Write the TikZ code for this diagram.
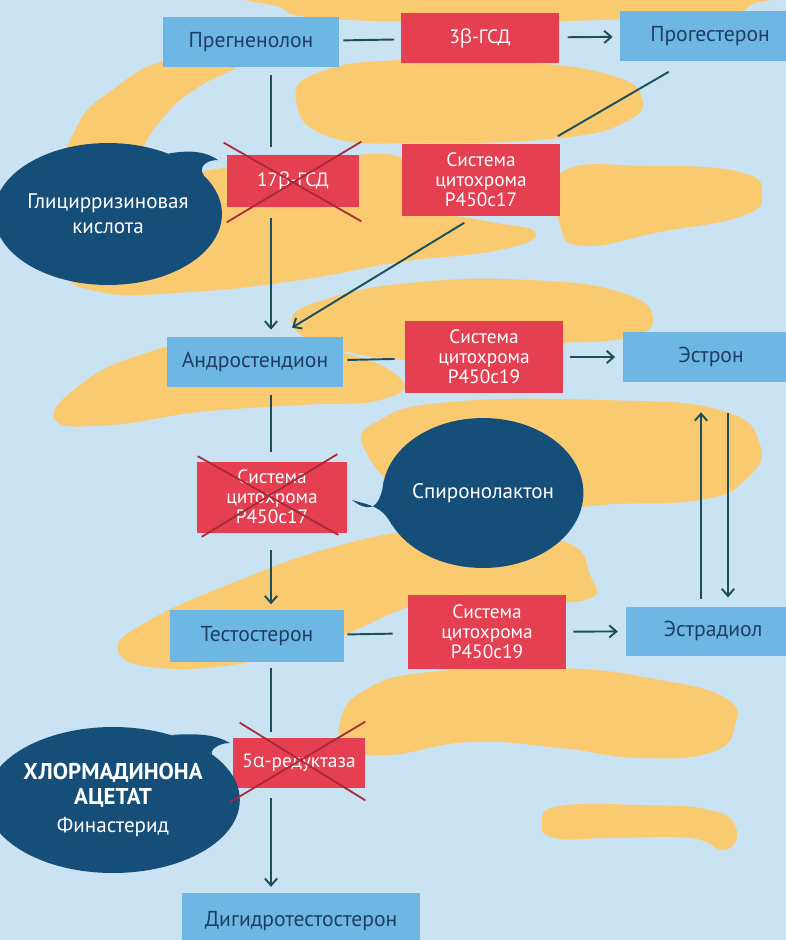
\documentclass[tikz,border=0pt]{standalone}
\usepackage{fontspec}
\setmainfont{PT Sans}
\newfontfamily\grk{Open Sans}
\usetikzlibrary{shapes.geometric,arrows.meta}
\definecolor{bgblue}{RGB}{202,227,243}
\definecolor{boxblue}{RGB}{110,183,228}
\definecolor{enzred}{RGB}{228,64,82}
\definecolor{inkblue}{RGB}{22,78,122}
\definecolor{blobyellow}{RGB}{250,202,112}
\definecolor{linkteal}{RGB}{28,78,92}
\definecolor{crossred}{RGB}{168,40,56}
\definecolor{boxtext}{RGB}{30,62,100}

\begin{document}
\begin{tikzpicture}[x=0.02cm,y=-0.02cm,
  substance/.style={fill=boxblue,text=boxtext,inner sep=0pt,font=\fontsize{12.3}{13}\selectfont},
  enzyme/.style={fill=enzred,text=white,inner sep=0pt,align=center,font=\fontsize{11}{11.4}\selectfont},
  blocker/.style={ellipse,fill=inkblue,text=white,inner sep=0pt,align=center,font=\fontsize{12}{14}\selectfont},
  link/.style={draw=linkteal,line width=1.1pt},
  arrow/.style={link,-{Straight Barb[length=4pt,width=7pt]}},
  cross/.style={draw=crossred,line width=1pt},
  blob/.style={fill=blobyellow}]
\useasboundingbox (0,0) rectangle (786,940);
\clip (0,0) rectangle (786,940);
\fill[bgblue] (0,0) rectangle (786,940);

% yellow blobs
\fill[blob] plot[smooth cycle, tension=0.8] coordinates {(275,-10) (282,8) (320,18) (450,22) (600,20) (720,14) (752,4) (760,-10)};
\fill[blob] plot[smooth cycle, tension=0.8] coordinates {(296,100) (320,72) (400,60) (520,62) (610,75) (642,98) (625,122) (560,138) (430,143) (330,137)};
\fill[blob] plot[smooth cycle, tension=0.8] coordinates {(60,200) (75,130) (115,88) (170,60) (236,64) (200,86) (168,112) (140,155) (120,220) (90,270)};
\fill[blob] plot[smooth cycle, tension=0.8] coordinates {(70,265) (120,200) (200,172) (300,163) (400,157) (420,205) (480,220) (535,232) (500,250) (400,262) (300,280) (190,292) (100,292)};
\fill[blob] plot[smooth cycle, tension=0.8] coordinates {(562,172) (650,166) (740,172) (762,194) (742,216) (660,232) (585,246) (560,225)};
\fill[blob] plot[smooth cycle, tension=0.8] coordinates {(292,322) (330,298) (420,282) (530,280) (620,292) (653,318) (625,338) (540,345) (440,360) (340,350)};
\fill[blob] plot[smooth cycle, tension=0.8] coordinates {(55,420) (80,385) (140,355) (220,340) (330,350) (400,378) (380,400) (300,405) (200,412) (110,425)};
\fill[blob] plot[smooth cycle, tension=0.8] coordinates {(365,450) (380,420) (450,402) (600,400) (720,410) (760,445) (745,480) (700,500) (600,505) (520,515) (420,500)};
\fill[blob] plot[smooth cycle, tension=0.8] coordinates {(393,545) (450,530) (560,540) (590,575) (585,600) (500,600) (400,600)};
\fill[blob] plot[smooth cycle, tension=0.8] coordinates {(118,650) (150,620) (240,580) (330,548) (420,530) (500,528) (560,545) (480,580) (400,610) (330,640) (250,662) (160,668)};
\fill[blob] plot[smooth cycle, tension=0.8] coordinates {(340,722) (365,690) (430,672) (560,668) (660,680) (725,698) (735,725) (712,752) (640,758) (560,748) (470,742) (390,755) (350,748)};
\fill[blob] plot[smooth cycle, tension=0.8] coordinates {(542,822) (560,806) (640,805) (710,810) (736,828) (725,850) (690,838) (610,838) (555,838)};

% substances
\node[substance, minimum width=3.52cm, minimum height=1cm] (preg) at (251,42) {Прегненолон};
\node[substance, minimum width=3.6cm, minimum height=1.02cm] (prog) at (710,36) {Прогестерон};
\node[substance, minimum width=3.52cm, minimum height=1cm] (andro) at (255,362) {Андростендион};
\node[substance, minimum width=3.54cm, minimum height=1cm] (estrone) at (711,357) {Эстрон};
\node[substance, minimum width=3.5cm, minimum height=1.04cm] (testo) at (257,636) {Тестостерон};
\node[substance, minimum width=3.48cm, minimum height=0.98cm] (estradiol) at (713,631) {Эстрадиол};
\node[substance, minimum width=4.78cm, minimum height=1.14cm] (dht) at (301,921) {Дигидротестостерон};

% enzymes
\node[enzyme, minimum width=3.18cm, minimum height=1cm] (hsd3) at (480,38) {3{\grk β}-ГСД};
\node[enzyme, minimum width=2.64cm, minimum height=1.04cm] (hsd17) at (293,181) {17{\grk β}-ГСД};
\node[enzyme, minimum width=3.18cm, minimum height=1.46cm] (cyp17a) at (481,180) {Система\\цитохрома\\P450c17};
\node[enzyme, minimum width=3.16cm, minimum height=1.46cm] (cyp19a) at (484,357) {Система\\цитохрома\\P450c19};
\node[enzyme, minimum width=3cm, minimum height=1.42cm] (cyp17b) at (272,497) {Система\\цитохрома\\P450c17};
\node[enzyme, minimum width=3.16cm, minimum height=1.48cm] (cyp19b) at (487,632) {Система\\цитохрома\\P450c19};
\node[enzyme, minimum width=2.64cm, minimum height=1cm] (red5a) at (299,763) {5{\grk α}-редуктаза};

% blockers
\node[blocker, minimum width=3.92cm, minimum height=2.84cm] (gly) at (108,214) {Глицирризиновая\\кислота};
\node[blocker, minimum width=3.88cm, minimum height=3cm] (spiro) at (483,493) {Спиронолактон};
\node[blocker, minimum width=4.12cm, minimum height=2.92cm] (chlor) at (113,800) {{\fontsize{13}{15}\selectfont\bfseries ХЛОРМАДИНОНА}\\{\fontsize{13}{15}\selectfont\bfseries АЦЕТАТ}\\[2pt]Финастерид};
\fill[inkblue] (gly.45) .. controls (190,150) and (205,151) .. (218,160) .. controls (205,160) and (198,168) .. (gly.22) -- cycle;
\fill[inkblue] (chlor.48) .. controls (200,733) and (216,735) .. (230,743) .. controls (216,743) and (210,752) .. (chlor.25) -- cycle;
\fill[inkblue] (spiro.172) .. controls (380,515) and (365,510) .. (352,500) .. controls (368,505) and (382,505) .. (spiro.200) -- cycle;

% connectors
\coordinate (spine) at (271,0);
\coordinate (upx) at (701,0);
\coordinate (downx) at (728,0);
\draw[link, shorten <=2.3pt, shorten >=3.4pt] (preg) -- (hsd3);
\draw[arrow, shorten <=4.5pt, shorten >=4pt] (hsd3) -- (prog);
\draw[link, shorten <=4.5pt, shorten >=4.5pt] (preg.south -| spine) -- (hsd17.north -| spine);
\draw[arrow, shorten <=6pt, shorten >=4pt] (hsd17.south -| spine) -- (andro.north -| spine);
\draw[link] ([shift={(49,10)}]prog.south west) -- ([shift={(-3,-7)}]cyp17a.north east);
\draw[arrow] ([shift={(63,6)}]cyp17a.south west) -- ([shift={(37,-9)}]andro.north);
\draw[link, shorten <=2.3pt, shorten >=5.7pt] (andro) -- (cyp19a);
\draw[arrow, shorten <=4pt, shorten >=4pt] (cyp19a) -- (estrone);
\draw[link, shorten <=4.5pt, shorten >=5pt] (andro.south -| spine) -- (cyp17b.north -| spine);
\draw[arrow, shorten <=9.5pt, shorten >=3pt] (cyp17b.south -| spine) -- (testo.north -| spine);
\draw[arrow, shorten <=4pt, shorten >=17pt] (estradiol.north -| upx) -- (estrone.south -| upx);
\draw[arrow, shorten <=17.6pt, shorten >=5pt] (estrone.south -| downx) -- (estradiol.north -| downx);
\draw[link, shorten <=1.5pt, shorten >=8.5pt] (testo) -- (cyp19b);
\draw[arrow, shorten <=4pt, shorten >=4.5pt] (cyp19b) -- (estradiol);
\draw[link, shorten <=3.4pt, shorten >=3pt] (testo.south -| spine) -- (red5a.north -| spine);
\draw[arrow, shorten <=5.7pt, shorten >=3pt] (red5a.south -| spine) -- (dht.north -| spine);

% blocked steps
\draw[cross] ([shift={(-3,-12)}]hsd17.north west) -- ([shift={(2,14)}]hsd17.south east);
\draw[cross] ([shift={(2,-13)}]hsd17.north east) -- ([shift={(0,15)}]hsd17.south west);
\draw[cross] ([shift={(1,-5)}]cyp17b.north west) -- ([shift={(-9,2)}]cyp17b.south east);
\draw[cross] ([shift={(-10,-7)}]cyp17b.north east) -- ([shift={(5,4)}]cyp17b.south west);
\draw[cross] ([shift={(7,-15)}]red5a.north west) -- ([shift={(0,12)}]red5a.south east);
\draw[cross] ([shift={(0,-16)}]red5a.north east) -- ([shift={(-3,14)}]red5a.south west);
\end{tikzpicture}
\end{document}
